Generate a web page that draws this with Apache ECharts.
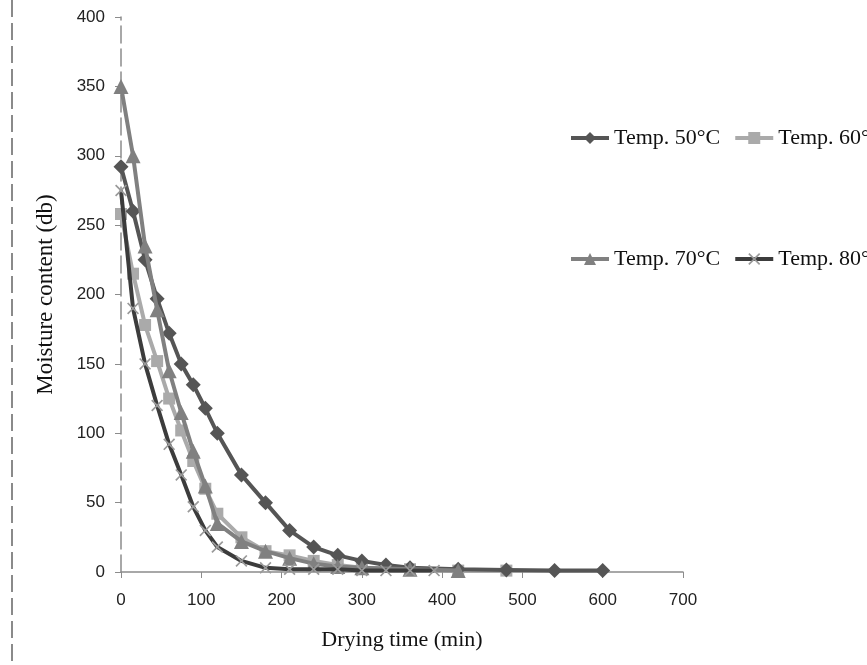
<!DOCTYPE html>
<html>
<head>
<meta charset="utf-8">
<script src="https://cdn.jsdelivr.net/npm/echarts@6/dist/echarts.min.js"></script>
<style>html,body{margin:0;padding:0;background:#fff;}#c{width:867px;height:665px;}</style>
</head>
<body>
<div id="c"></div>
<script>
// Data (time in min, moisture content db)
const seriesNames = ["Temp. 50°C", "Temp. 60°C", "Temp. 70°C", "Temp. 80°C"];
const t50 = [0, 15, 30, 45, 60, 75, 90, 105, 120, 150, 180, 210, 240, 270, 300, 330, 360, 420, 480, 540, 600];
const v50 = [292, 260, 225, 197, 172, 150, 135, 118, 100, 70, 50, 30, 18, 12, 8, 5, 3, 2, 1.5, 1, 1];
const t60 = [0, 15, 30, 45, 60, 75, 90, 105, 120, 150, 180, 210, 240, 270, 300, 360, 420, 480];
const v60 = [258, 215, 178, 152, 125, 102, 80, 60, 42, 25, 15, 12, 8, 5, 3, 2, 1, 1];
const t70 = [0, 15, 30, 45, 60, 75, 90, 105, 120, 150, 180, 210, 240, 270, 300, 360, 420];
const v70 = [350, 300, 235, 189, 145, 115, 87, 62, 35, 22, 15, 10, 6, 4, 3, 2, 1];
const t80 = [0, 15, 30, 45, 60, 75, 90, 105, 120, 150, 180, 210, 240, 270, 300, 330, 360, 390];
const v80 = [275, 190, 150, 120, 92, 70, 47, 30, 18, 8, 3, 2, 2, 2, 1, 1, 1, 1];
const xTicks = [0, 100, 200, 300, 400, 500, 600, 700];
const yTicks = [0, 50, 100, 150, 200, 250, 300, 350, 400];

const pairs = (t, v) => t.map((x, i) => [x, v[i]]);
const xPath = 'path://M0,1 L1,0 L5,4 L9,0 L10,1 L6,5 L10,9 L9,10 L5,6 L1,10 L0,9 L4,5 Z';

const chart = echarts.init(document.getElementById('c'), null, {renderer: 'canvas'});
const serif = 'Liberation Serif';
const sans = 'Liberation Sans';
const legendText = {fontFamily: serif, fontSize: 22, color: '#111'};
const legendCommon = {orient: 'horizontal', width: 600, itemWidth: 38, itemHeight: 15, itemGap: 13,
  textStyle: legendText, lineStyle: {width: 4}};

chart.setOption({
  animation: false,
  backgroundColor: '#fff',
  grid: {left: 121, right: 184, top: 17, bottom: 93, containLabel: false},
  legend: [
    Object.assign({data: [seriesNames[0], seriesNames[1]], left: 564, top: 122}, legendCommon),
    Object.assign({data: [seriesNames[2], seriesNames[3]], left: 564, top: 243}, legendCommon)
  ],
  graphic: [{
    type: 'line', shape: {x1: 12, y1: 0, x2: 12, y2: 665},
    style: {stroke: '#8a8a8a', lineWidth: 2, lineDash: [17, 6]}, silent: true
  }],
  xAxis: {
    type: 'value', min: xTicks[0], max: xTicks[xTicks.length - 1], interval: 100,
    name: 'Drying time (min)', nameLocation: 'middle', nameGap: 57,
    nameTextStyle: {fontFamily: serif, fontSize: 22, color: '#111'},
    axisLine: {lineStyle: {color: '#8c8c8c', width: 1.5}},
    axisTick: {show: true, length: 6, lineStyle: {color: '#8c8c8c'}},
    axisLabel: {fontFamily: sans, fontSize: 17, color: '#222', margin: 20},
    splitLine: {show: false}
  },
  yAxis: {
    type: 'value', min: yTicks[0], max: yTicks[yTicks.length - 1], interval: 50,
    name: 'Moisture content (db)', nameLocation: 'middle', nameGap: 64, nameRotate: 90,
    nameTextStyle: {fontFamily: serif, fontSize: 23, color: '#111'},
    axisLine: {show: true, lineStyle: {color: '#8c8c8c', width: 1.5, type: [17, 6]}},
    axisTick: {show: true, length: 6, lineStyle: {color: '#8c8c8c'}},
    axisLabel: {fontFamily: sans, fontSize: 17, color: '#222', margin: 16},
    splitLine: {show: false}
  },
  series: [
    {name: seriesNames[0], type: 'line', data: pairs(t50, v50), symbol: 'diamond', symbolSize: 15,
      itemStyle: {color: '#555555'}, lineStyle: {color: '#555555', width: 4}, z: 4},
    {name: seriesNames[1], type: 'line', data: pairs(t60, v60), symbol: 'rect', symbolSize: 12,
      itemStyle: {color: '#aaaaaa'}, lineStyle: {color: '#aaaaaa', width: 4}, z: 3},
    {name: seriesNames[2], type: 'line', data: pairs(t70, v70), symbol: 'triangle', symbolSize: 15,
      itemStyle: {color: '#808080'}, lineStyle: {color: '#808080', width: 4}, z: 5},
    {name: seriesNames[3], type: 'line', data: pairs(t80, v80), symbol: xPath, symbolSize: 12,
      itemStyle: {color: '#9a9a9a'}, lineStyle: {color: '#3c3c3c', width: 4}, z: 6}
  ]
});
</script>
</body>
</html>
